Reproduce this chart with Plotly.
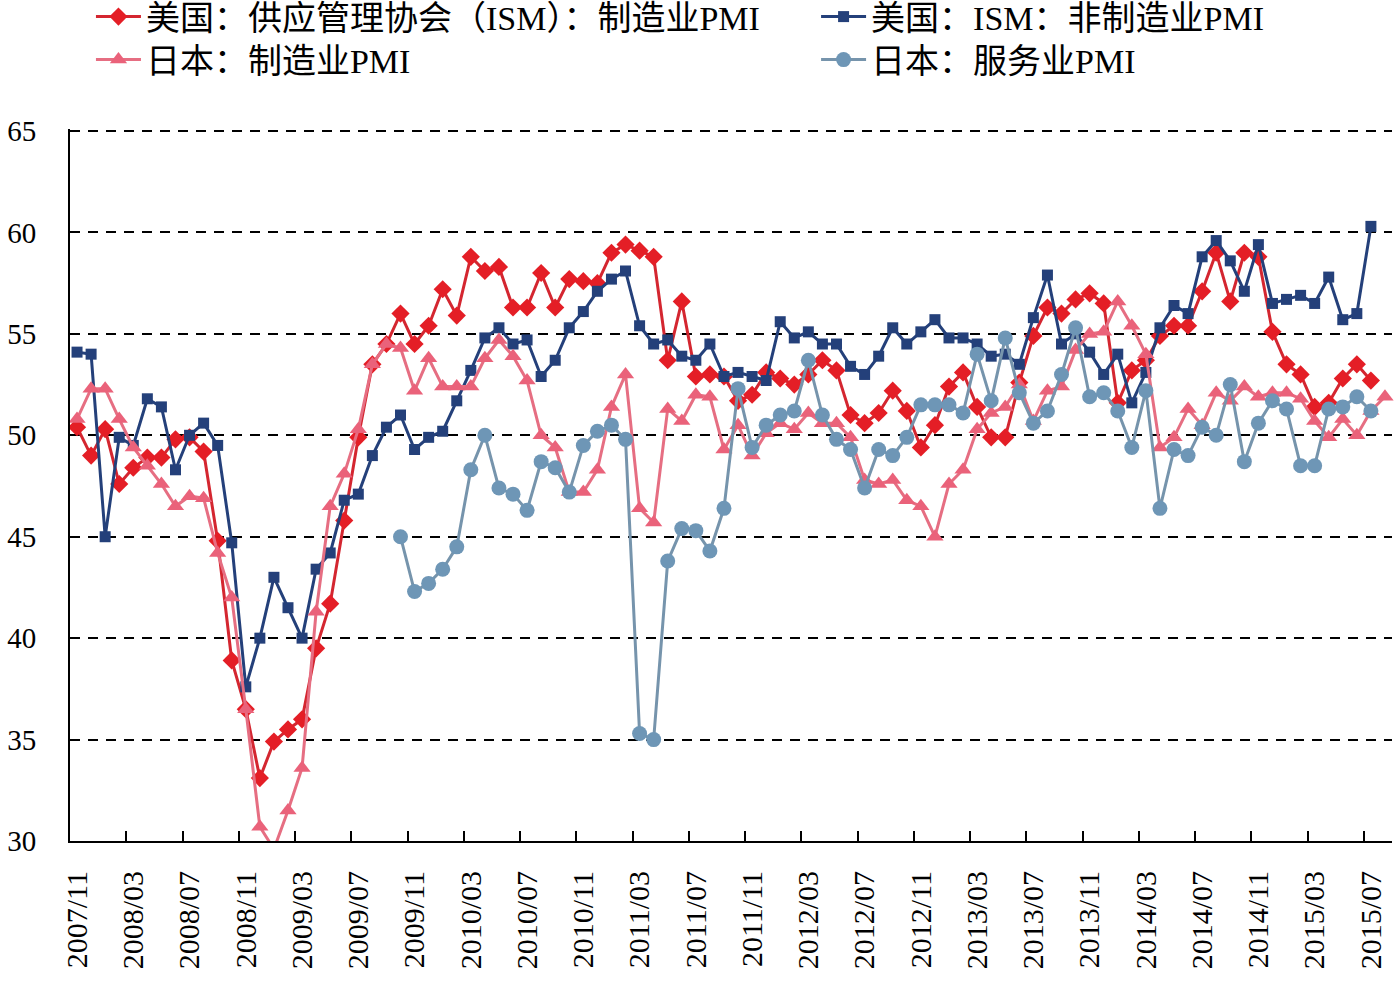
import plotly.graph_objects as go

# ---- data ----
months = [f"{y}/{m:02d}" for y, m in
          [(2007, 11), (2007, 12)] + [(y, m) for y in range(2008, 2015) for m in range(1, 13)]
          + [(2015, m) for m in range(1, 9)]]

us_ism_mfg = [50.4, 49.0, 50.3, 47.6, 48.4, 48.9, 48.9, 49.8, 49.9, 49.2,
              44.8, 38.9, 36.5, 33.1, 34.9, 35.5, 36.0, 39.5, 41.7, 45.8,
              49.9, 53.5, 54.5, 56.0, 54.5, 55.4, 57.2, 55.9, 58.8, 58.1,
              58.3, 56.3, 56.3, 58.0, 56.3, 57.7, 57.6, 57.5, 59.0, 59.4,
              59.1, 58.8, 53.7, 56.6, 52.9, 53.0, 52.9, 51.7, 52.0, 53.1,
              52.8, 52.5, 53.0, 53.7, 53.2, 51.0, 50.6, 51.1, 52.2, 51.2,
              49.4, 50.5, 52.4, 53.1, 51.4, 49.9, 49.9, 52.6, 54.9, 56.3,
              56.0, 56.7, 57.0, 56.5, 51.6, 53.2, 53.7, 54.9, 55.4, 55.4,
              57.1, 59.0, 56.6, 59.0, 58.8, 55.1, 53.5, 53.0, 51.4, 51.6,
              52.8, 53.5, 52.7, None]

us_ism_nonmfg = [54.1, 54.0, 45.0, 49.9, 49.5, 51.8, 51.4, 48.3, 50.0, 50.6,
                 49.5, 44.7, 37.6, 40.0, 43.0, 41.5, 40.0, 43.4, 44.2, 46.8,
                 47.1, 49.0, 50.4, 51.0, 49.3, 49.9, 50.2, 51.7, 53.2, 54.8,
                 55.3, 54.5, 54.7, 52.9, 53.7, 55.3, 56.1, 57.1, 57.7, 58.1,
                 55.4, 54.5, 54.7, 53.9, 53.7, 54.5, 52.9, 53.1, 52.9, 52.7,
                 55.6, 54.8, 55.1, 54.5, 54.5, 53.4, 53.0, 53.9, 55.3, 54.5,
                 55.1, 55.7, 54.8, 54.8, 54.5, 53.9, 54.0, 53.5, 55.8, 57.9,
                 54.5, 55.0, 54.1, 53.0, 54.0, 51.6, 53.1, 55.3, 56.4, 56.0,
                 58.8, 59.6, 58.6, 57.1, 59.4, 56.5, 56.7, 56.9, 56.5, 57.8,
                 55.7, 56.0, 60.3, None]

jp_mfg = [50.8, 52.3, 52.3, 50.8, 49.4, 48.5, 47.6, 46.5, 47.0, 46.9,
          44.2, 42.0, 36.5, 30.7, 29.6, 31.5, 33.6, 41.3, 46.5, 48.1,
          50.3, 53.5, 54.5, 54.3, 52.2, 53.8, 52.4, 52.4, 52.4, 53.8,
          54.7, 53.9, 52.7, 50.0, 49.4, 47.2, 47.2, 48.3, 51.4, 53.0,
          46.4, 45.7, 51.3, 50.7, 52.0, 51.9, 49.3, 50.5, 49.0, 50.1,
          50.6, 50.3, 51.1, 50.6, 50.6, 49.9, 47.8, 47.6, 47.8, 46.8,
          46.5, 45.0, 47.6, 48.3, 50.3, 51.1, 51.4, 52.5, 50.7, 52.2,
          52.4, 54.2, 55.0, 55.1, 56.6, 55.4, 54.0, 49.4, 49.9, 51.3,
          50.5, 52.1, 51.7, 52.4, 51.9, 52.1, 52.1, 51.8, 50.7, 49.9,
          50.8, 50.0, 51.2, 51.9]

jp_services = [None] * 23 + [
    45.0, 42.3, 42.7, 43.4, 44.5, 48.3, 50.0,
    47.4, 47.1, 46.3, 48.7, 48.4, 47.2, 49.5, 50.2, 50.5, 49.8,
    35.3, 35.0, 43.8, 45.4, 45.3, 44.3, 46.4, 52.3, 49.4, 50.5,
    51.0, 51.2, 53.7, 51.0, 49.8, 49.3, 47.4, 49.3, 49.0, 49.9,
    51.5, 51.5, 51.5, 51.1, 54.0, 51.7, 54.8, 52.1, 50.6, 51.2,
    53.0, 55.3, 51.9, 52.1, 51.2, 49.4, 52.2, 46.4, 49.3, 49.0,
    50.4, 50.0, 52.5, 48.7, 50.6, 51.7, 51.3, 48.5, 48.5, 51.3,
    51.4, 51.9, 51.2, None]

names = ["美国：供应管理协会（ISM）：制造业PMI", "美国：ISM：非制造业PMI",
         "日本：制造业PMI", "日本：服务业PMI"]

FONT = "Liberation Serif, Noto Sans CJK SC, serif"

fig = go.Figure()
series = [
    (us_ism_mfg, names[0], "rgb(228,30,38)", "rgb(212,38,48)", "diamond", 14, "legend"),
    (us_ism_nonmfg, names[1], "rgb(36,64,122)", "rgb(36,64,122)", "square", 11, "legend2"),
    (jp_mfg, names[2], "rgb(234,98,122)", "rgb(230,110,130)", "triangle-up", 15, "legend3"),
    (jp_services, names[3], "rgb(110,150,182)", "rgb(118,148,172)", "circle", 15, "legend4"),
]
for i, (vals, nm, mcol, lcol, sym, sz, lg) in enumerate(series):
    fig.add_trace(go.Scatter(
        x=months, y=vals, name=nm, mode="lines+markers",
        line=dict(color=lcol, width=3),
        marker=dict(symbol=sym, size=sz, color=mcol, line=dict(width=0)),
        legend=lg, cliponaxis=False,
    ))

def leg(x, y):
    return dict(xref="container", yref="container", x=x, y=y,
                xanchor="left", yanchor="middle", orientation="v",
                font=dict(size=34), itemwidth=45, bgcolor="rgba(0,0,0,0)")

fig.update_layout(
    width=1395, height=981,
    margin=dict(l=70, r=3, t=129, b=140, autoexpand=False),
    paper_bgcolor="white", plot_bgcolor="white",
    font=dict(family=FONT, size=30, color="black"),
    showlegend=True,
    legend=leg(0.0652, 1 - 17 / 981),
    legend2=leg(0.585, 1 - 17 / 981),
    legend3=leg(0.0652, 1 - 60 / 981),
    legend4=leg(0.585, 1 - 60 / 981),
    xaxis=dict(type="category", range=[-0.5, len(months) - 0.5],
               tickmode="linear", tick0=0, dtick=4, tickson="boundaries",
               ticks="inside", ticklen=10, tickwidth=2, tickcolor="black",
               tickangle=-90, ticklabelstandoff=16,
               tickfont=dict(size=30, family=FONT),
               showgrid=False, showline=True, linecolor="black", linewidth=2,
               zeroline=False),
    yaxis=dict(range=[30, 65.1], dtick=5, tick0=30,
               ticks="", ticklabelstandoff=26,
               tickfont=dict(size=29, family=FONT),
               showgrid=True, gridcolor="black", gridwidth=2, griddash="10px,8px",
               showline=True, linecolor="black", linewidth=2, zeroline=False),
)

fig.write_html("out.html")
